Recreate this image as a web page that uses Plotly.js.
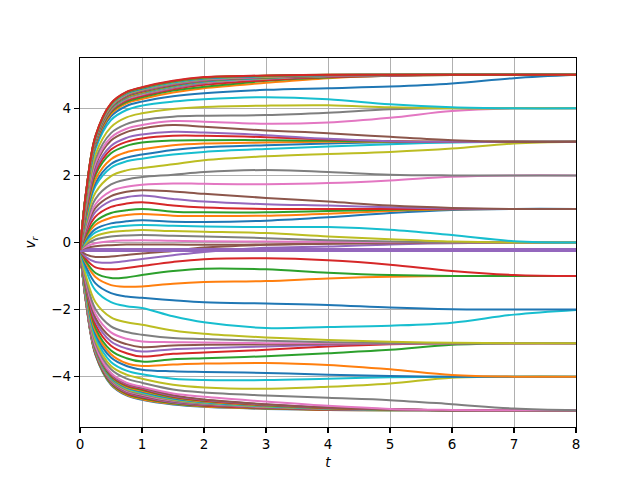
<!DOCTYPE html>
<html lang="en">

<head>
    <meta charset="UTF-8">
    <title>v_r trajectories</title>
    <script src="https://cdn.plot.ly/plotly-3.0.1.min.js"></script>
    <style>
        body {
            margin: 0;
            padding: 0;
            background: white;
        }

        #plot {
            width: 640px;
            height: 480px;
        }
    </style>
</head>

<body>
    <div id="plot"></div>

    <script>
        // sample times shared by every trajectory
        const tGrid = [0, 0.1, 0.25, 0.5, 0.75, 1, 1.5, 2, 3, 4, 5, 6, 7, 8];

        // dense bundle that ends at -5 (bottom of the fan)
        const lowerBundle = [
            [-0.22, -1.83, -3.35, -4.24, -4.56, -4.69, -4.83, -4.90, -4.96, -4.99, -5, -5, -5, -5],
            [-0.22, -1.82, -3.33, -4.22, -4.54, -4.67, -4.81, -4.89, -4.95, -4.99, -5, -5, -5, -5],
            [-0.22, -1.81, -3.32, -4.20, -4.51, -4.64, -4.79, -4.87, -4.94, -4.98, -5, -5, -5, -5],
            [-0.22, -1.80, -3.30, -4.17, -4.49, -4.62, -4.77, -4.86, -4.93, -4.98, -4.99, -5, -5, -5],
            [-0.22, -1.80, -3.28, -4.15, -4.46, -4.59, -4.76, -4.84, -4.92, -4.97, -4.99, -5, -5, -5],
            [-0.22, -1.79, -3.26, -4.13, -4.44, -4.57, -4.74, -4.83, -4.91, -4.97, -4.99, -5, -5, -5],
            [-0.22, -1.78, -3.25, -4.11, -4.42, -4.54, -4.72, -4.81, -4.90, -4.96, -4.99, -5, -5, -5],
            [-0.22, -1.77, -3.23, -4.09, -4.39, -4.52, -4.70, -4.80, -4.89, -4.96, -4.99, -5, -5, -5],
            [-0.22, -1.76, -3.21, -4.06, -4.37, -4.49, -4.68, -4.78, -4.89, -4.95, -4.98, -5, -5, -5],
            [-0.22, -1.75, -3.19, -4.04, -4.34, -4.47, -4.66, -4.77, -4.88, -4.95, -4.98, -5, -5, -5],
            [-0.22, -1.74, -3.18, -4.02, -4.32, -4.44, -4.64, -4.75, -4.87, -4.94, -4.98, -5, -5, -5],
            [-0.22, -1.73, -3.16, -4.00, -4.30, -4.42, -4.62, -4.74, -4.86, -4.94, -4.98, -5, -5, -5],
            [-0.22, -1.73, -3.14, -3.98, -4.27, -4.39, -4.61, -4.72, -4.85, -4.93, -4.98, -5, -5, -5],
            [-0.22, -1.72, -3.12, -3.95, -4.25, -4.37, -4.59, -4.71, -4.84, -4.93, -4.97, -5, -5, -5],
            [-0.22, -1.71, -3.11, -3.93, -4.22, -4.34, -4.57, -4.69, -4.83, -4.92, -4.97, -5, -5, -5],
            [-0.22, -1.70, -3.09, -3.91, -4.20, -4.32, -4.55, -4.68, -4.82, -4.92, -4.97, -5, -5, -5]
        ];

        // trajectories below the resting level, bottom to top
        const lowerCurves = [
            [-0.22, -1.69, -3.08, -3.89, -4.18, -4.30, -4.50, -4.60, -4.74, -4.87, -4.96, -4.99, -5, -5],
            [-0.22, -1.65, -2.99, -3.78, -4.06, -4.18, -4.38, -4.47, -4.56, -4.63, -4.70, -4.82, -4.95, -5],
            [-0.22, -1.60, -2.91, -3.68, -3.94, -4.06, -4.24, -4.32, -4.36, -4.30, -4.20, -4.03, -4.00, -4],
            [-0.22, -1.56, -2.82, -3.56, -3.82, -3.93, -4.06, -4.10, -4.10, -4.06, -4.02, -4.00, -4, -4],
            [-0.22, -1.51, -2.72, -3.43, -3.68, -3.79, -3.84, -3.86, -3.89, -3.94, -3.98, -4.00, -4, -4],
            [-0.22, -1.47, -2.64, -3.33, -3.60, -3.68, -3.64, -3.61, -3.59, -3.65, -3.78, -3.95, -4.00, -4],
            [-0.22, -1.42, -2.55, -3.22, -3.45, -3.55, -3.48, -3.45, -3.39, -3.30, -3.20, -3.05, -3.00, -3],
            [-0.22, -1.36, -2.45, -3.08, -3.30, -3.40, -3.32, -3.28, -3.20, -3.10, -3.03, -3.00, -3, -3],
            [-0.22, -1.31, -2.34, -2.95, -3.16, -3.25, -3.18, -3.15, -3.10, -3.05, -3.01, -3, -3, -3],
            [-0.22, -1.26, -2.25, -2.83, -3.03, -3.12, -3.07, -3.05, -3.04, -3.02, -3.00, -3, -3, -3],
            [-0.22, -1.20, -2.13, -2.68, -2.87, -2.95, -2.97, -2.98, -3.00, -3.00, -3, -3, -3, -3],
            [-0.22, -1.13, -1.99, -2.50, -2.67, -2.75, -2.85, -2.88, -2.93, -2.97, -3.00, -3, -3, -3],
            [-0.22, -1.02, -1.78, -2.23, -2.38, -2.45, -2.62, -2.72, -2.83, -2.91, -2.96, -2.99, -3, -3],
            [-0.22, -0.84, -1.43, -1.78, -1.90, -1.95, -2.20, -2.38, -2.55, -2.52, -2.48, -2.39, -2.15, -2.01],
            [-0.22, -0.73, -1.22, -1.51, -1.61, -1.65, -1.72, -1.78, -1.82, -1.86, -1.94, -1.99, -2, -2],
            [-0.22, -0.63, -1.03, -1.27, -1.32, -1.31, -1.23, -1.18, -1.15, -1.07, -1.02, -1.00, -1, -1],
            [-0.22, -0.57, -0.91, -1.06, -1.04, -0.97, -0.85, -0.78, -0.80, -0.90, -0.97, -1.00, -1, -1],
            [-0.22, -0.50, -0.74, -0.80, -0.76, -0.70, -0.58, -0.50, -0.47, -0.53, -0.66, -0.85, -0.97, -1],
            [-0.22, -0.44, -0.58, -0.60, -0.55, -0.49, -0.38, -0.28, -0.16, -0.12, -0.06, -0.02, 0, 0],
            [-0.22, -0.36, -0.43, -0.42, -0.37, -0.33, -0.25, -0.15, -0.07, -0.04, -0.02, 0, 0, 0]
        ];

        // trajectories that never leave the resting value
        const restLine = [-0.22, -0.22, -0.22, -0.22, -0.22, -0.22, -0.22, -0.22, -0.22, -0.22, -0.22, -0.22, -0.22, -0.22];
        const restCount = 9;

        // trajectories above the resting level, bottom to top
        const upperCurves = [
            [-0.22, -0.16, -0.11, -0.08, -0.06, -0.06, -0.06, -0.07, -0.06, -0.03, -0.01, 0, 0, 0],
            [-0.22, -0.12, -0.02, 0.04, 0.06, 0.07, 0.05, 0.04, 0.03, 0.02, 0.01, 0, 0, 0],
            [-0.22, -0.06, 0.09, 0.18, 0.21, 0.22, 0.20, 0.18, 0.13, 0.07, 0.03, 0, 0, 0],
            [-0.22, -0.01, 0.19, 0.31, 0.35, 0.37, 0.34, 0.32, 0.28, 0.18, 0.10, 0.03, 0, 0],
            [-0.22, 0.05, 0.30, 0.45, 0.50, 0.52, 0.50, 0.48, 0.46, 0.46, 0.38, 0.22, 0.04, 0],
            [-0.22, 0.10, 0.40, 0.57, 0.63, 0.66, 0.62, 0.61, 0.65, 0.75, 0.88, 0.97, 1.00, 1],
            [-0.22, 0.17, 0.53, 0.74, 0.82, 0.85, 0.80, 0.79, 0.80, 0.86, 0.94, 0.99, 1, 1],
            [-0.22, 0.22, 0.63, 0.88, 0.96, 1.00, 0.92, 0.90, 0.90, 0.94, 0.98, 1.00, 1, 1],
            [-0.22, 0.29, 0.77, 1.06, 1.16, 1.20, 1.10, 1.04, 1.00, 1.00, 1, 1, 1, 1],
            [-0.22, 0.36, 0.91, 1.24, 1.35, 1.40, 1.30, 1.22, 1.14, 1.10, 1.05, 1.01, 1, 1],
            [-0.22, 0.42, 1.03, 1.38, 1.51, 1.56, 1.52, 1.45, 1.33, 1.22, 1.10, 1.03, 1.00, 1],
            [-0.22, 0.48, 1.14, 1.53, 1.66, 1.72, 1.76, 1.75, 1.74, 1.77, 1.85, 1.96, 2.00, 2],
            [-0.22, 0.56, 1.30, 1.73, 1.88, 1.95, 2.02, 2.10, 2.16, 2.10, 2.02, 2.00, 2, 2],
            [-0.22, 0.66, 1.49, 1.98, 2.15, 2.22, 2.33, 2.45, 2.57, 2.64, 2.70, 2.80, 2.95, 3],
            [-0.22, 0.76, 1.68, 2.23, 2.42, 2.50, 2.62, 2.70, 2.79, 2.86, 2.93, 2.98, 3.00, 3],
            [-0.22, 0.80, 1.77, 2.34, 2.53, 2.62, 2.76, 2.84, 2.90, 2.95, 2.99, 3.00, 3, 3],
            [-0.22, 0.86, 1.88, 2.48, 2.69, 2.78, 2.90, 2.95, 2.98, 3.00, 3, 3, 3, 3],
            [-0.22, 0.93, 2.02, 2.66, 2.88, 2.98, 3.04, 3.05, 3.05, 3.03, 3.01, 3.00, 3, 3],
            [-0.22, 0.98, 2.10, 2.77, 3.00, 3.10, 3.18, 3.18, 3.14, 3.07, 3.02, 3.00, 3, 3],
            [-0.22, 1.02, 2.19, 2.88, 3.12, 3.22, 3.30, 3.28, 3.20, 3.09, 3.02, 3.00, 3, 3],
            [-0.22, 1.08, 2.31, 3.04, 3.29, 3.40, 3.50, 3.45, 3.34, 3.26, 3.15, 3.05, 3.00, 3],
            [-0.22, 1.12, 2.38, 3.13, 3.39, 3.50, 3.62, 3.60, 3.54, 3.58, 3.72, 3.92, 4.00, 4],
            [-0.22, 1.17, 2.49, 3.26, 3.53, 3.65, 3.75, 3.78, 3.80, 3.87, 3.97, 4.00, 4, 4],
            [-0.22, 1.25, 2.63, 3.44, 3.73, 3.85, 3.98, 4.04, 4.08, 4.09, 4.03, 4.00, 4, 4],
            [-0.22, 1.33, 2.79, 3.65, 3.95, 4.08, 4.20, 4.27, 4.33, 4.27, 4.12, 4.03, 4.00, 4],
            [-0.22, 1.37, 2.87, 3.76, 4.07, 4.20, 4.36, 4.45, 4.55, 4.60, 4.65, 4.74, 4.90, 5],
            [-0.22, 1.40, 2.93, 3.83, 4.15, 4.28, 4.47, 4.60, 4.76, 4.90, 4.98, 5, 5, 5],
            [-0.22, 1.42, 2.97, 3.88, 4.19, 4.33, 4.53, 4.64, 4.82, 4.92, 4.97, 4.99, 5, 5],
            [-0.22, 1.43, 2.99, 3.91, 4.23, 4.37, 4.57, 4.70, 4.84, 4.93, 4.97, 4.99, 5, 5]
        ];

        // dense bundle that ends at +5 (top of the fan)
        const upperBundle = [
            [-0.22, 1.44, 3.01, 3.94, 4.26, 4.40, 4.60, 4.75, 4.88, 4.95, 4.98, 5, 5, 5],
            [-0.22, 1.44, 3.02, 3.95, 4.27, 4.41, 4.61, 4.76, 4.89, 4.95, 4.99, 5, 5, 5],
            [-0.22, 1.45, 3.03, 3.96, 4.28, 4.42, 4.62, 4.77, 4.89, 4.96, 4.99, 5, 5, 5],
            [-0.22, 1.45, 3.04, 3.97, 4.30, 4.44, 4.63, 4.78, 4.90, 4.96, 4.99, 5, 5, 5],
            [-0.22, 1.46, 3.05, 3.98, 4.31, 4.45, 4.65, 4.79, 4.90, 4.96, 4.99, 5, 5, 5],
            [-0.22, 1.46, 3.05, 4.00, 4.32, 4.46, 4.66, 4.80, 4.91, 4.96, 4.99, 5, 5, 5],
            [-0.22, 1.47, 3.06, 4.01, 4.33, 4.47, 4.67, 4.81, 4.91, 4.97, 4.99, 5, 5, 5],
            [-0.22, 1.47, 3.07, 4.02, 4.34, 4.48, 4.68, 4.82, 4.92, 4.97, 4.99, 5, 5, 5],
            [-0.22, 1.48, 3.08, 4.03, 4.36, 4.50, 4.69, 4.83, 4.92, 4.97, 4.99, 5, 5, 5],
            [-0.22, 1.48, 3.09, 4.04, 4.37, 4.51, 4.70, 4.84, 4.93, 4.97, 4.99, 5, 5, 5],
            [-0.22, 1.49, 3.10, 4.05, 4.38, 4.52, 4.72, 4.84, 4.93, 4.98, 4.99, 5, 5, 5],
            [-0.22, 1.49, 3.11, 4.06, 4.39, 4.53, 4.73, 4.85, 4.94, 4.98, 4.99, 5, 5, 5],
            [-0.22, 1.50, 3.12, 4.07, 4.41, 4.55, 4.74, 4.86, 4.94, 4.98, 4.99, 5, 5, 5],
            [-0.22, 1.50, 3.13, 4.08, 4.42, 4.56, 4.75, 4.87, 4.95, 4.98, 5, 5, 5, 5],
            [-0.22, 1.51, 3.13, 4.09, 4.43, 4.57, 4.76, 4.88, 4.95, 4.99, 5, 5, 5, 5],
            [-0.22, 1.51, 3.14, 4.11, 4.44, 4.58, 4.77, 4.89, 4.96, 4.99, 5, 5, 5, 5],
            [-0.22, 1.52, 3.15, 4.12, 4.45, 4.59, 4.79, 4.90, 4.96, 4.99, 5, 5, 5, 5],
            [-0.22, 1.52, 3.16, 4.13, 4.47, 4.61, 4.80, 4.91, 4.97, 5, 5, 5, 5, 5],
            [-0.22, 1.53, 3.17, 4.14, 4.48, 4.62, 4.81, 4.92, 4.97, 5, 5, 5, 5, 5],
            [-0.22, 1.53, 3.18, 4.15, 4.49, 4.63, 4.82, 4.93, 4.98, 5, 5, 5, 5, 5]
        ];

        const yTicks = [-4, -2, 0, 2, 4];

        // matplotlib tab10 cycle
        const palette = ['#1f77b4', '#ff7f0e', '#2ca02c', '#d62728', '#9467bd',
            '#8c564b', '#e377c2', '#7f7f7f', '#bcbd22', '#17becf'];

        function createVisualization() {
            const curves = [];
            lowerBundle.forEach(c => curves.push(c));
            lowerCurves.forEach(c => curves.push(c));
            for (let i = 0; i < restCount; i++) curves.push(restLine);
            upperCurves.forEach(c => curves.push(c));
            upperBundle.forEach(c => curves.push(c));

            const restTop = lowerBundle.length + lowerCurves.length + restCount - 1;

            const traces = curves.map((ys, i) => ({
                x: tGrid,
                y: ys,
                type: 'scatter',
                mode: 'lines',
                line: {
                    color: palette[i % 10],
                    width: i === restTop ? 4 : 2,
                    shape: 'spline',
                    smoothing: 1
                },
                hoverinfo: 'skip',
                showlegend: false
            }));

            const axisCommon = {
                ticks: 'outside',
                ticklen: 5,
                tickwidth: 1.1,
                tickcolor: 'black',
                showline: true,
                mirror: true,
                linecolor: 'black',
                linewidth: 1.1,
                zeroline: false,
                showgrid: true,
                gridcolor: '#b0b0b0',
                gridwidth: 1,
                tickfont: {family: 'DejaVu Sans', size: 13.5, color: 'black'}
            };

            const layout = {
                width: 640,
                height: 480,
                margin: {t: 58, r: 64, b: 53, l: 80},
                paper_bgcolor: 'white',
                plot_bgcolor: 'white',
                font: {family: 'DejaVu Sans', size: 13.5, color: 'black'},
                showlegend: false,
                xaxis: Object.assign({}, axisCommon, {
                    range: [0, 8],
                    tick0: 0,
                    dtick: 1,
                    title: {text: '<i>t</i>', standoff: 6, font: {family: 'DejaVu Sans', size: 13.5}}
                }),
                yaxis: Object.assign({}, axisCommon, {
                    range: [-5.5, 5.5],
                    tickvals: yTicks,
                    title: {text: '<i>v</i><sub><i>r</i></sub>', standoff: 12, font: {family: 'DejaVu Sans', size: 13.5}}
                })
            };

            Plotly.newPlot('plot', traces, layout, {displayModeBar: false, staticPlot: true});
        }

        document.addEventListener('DOMContentLoaded', createVisualization);
    </script>
</body>

</html>
